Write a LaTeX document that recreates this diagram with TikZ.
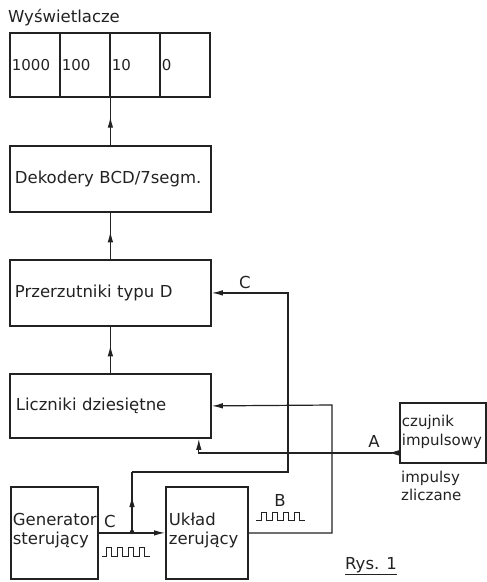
\documentclass[tikz,border=0pt]{standalone}
\usepackage{fontspec}
\setmainfont{DejaVu Sans}
\usetikzlibrary{arrows.meta,decorations.markings}
\definecolor{Ink}{HTML}{222222}
\tikzset{
  blok/.style={draw=Ink,line width=1.8pt,anchor=north west,align=left,inner xsep=5pt,inner ysep=0pt,text=Ink,font=\fontsize{16.5}{19}\selectfont},
  pole/.style={blok,inner xsep=2pt,text width=46pt,minimum height=64pt,font=\fontsize{15}{18}\selectfont},
  opis/.style={text=Ink,inner sep=0pt,font=\fontsize{16.5}{19}\selectfont},
  polacz/.style={draw=Ink,line width=1.2pt},
  grot/.style={-{Latex[length=11pt,width=5.5pt]}},
  srodek/.style={postaction={decorate},decoration={markings,mark=at position 0.6 with {\arrow{Latex[length=11pt,width=5.5pt]}}}},
  fala/.style={draw=Ink,line width=1pt}
}
\begin{document}
\begin{tikzpicture}[x=1pt,y=-1pt]
    \useasboundingbox (0,0) rectangle (487,582);
    \node[opis,anchor=base west] (wysw) at (8,22) {Wyświetlacze};
    \node[pole] (d1000) at (9,32) {1000};
    \node[pole] (d100) at (59,32) {100};
    \node[pole] (d10) at (109,32) {10};
    \node[pole] (d0) at (159,32) {0};
    \node[blok,text width=191pt,minimum height=66pt] (dek) at (9,145) {Dekodery BCD/7segm.};
    \node[blok,text width=191pt,minimum height=66pt] (prz) at (9,259) {Przerzutniki typu D};
    \node[blok,text width=189pt,inner xsep=6pt,minimum height=64pt] (licz) at (9,373) {Liczniki dziesiętne};
    \node[blok,text width=83pt,inner xsep=2pt,minimum height=92pt,text depth=28pt] (gen) at (10,486) {Generator\\sterujący};
    \node[blok,text width=76pt,inner xsep=3pt,minimum height=92pt,text depth=28pt] (uk) at (165,486) {Układ\\zerujący};
    \node[blok,text width=82pt,inner xsep=2pt,minimum height=60pt,text depth=24pt,font=\fontsize{15}{19}\selectfont] (czuj) at (399,402) {czujnik\\impulsowy};

    \draw[polacz,srodek] (dek.north) -- (dek.north |- d10.south);
    \draw[polacz,srodek] (prz.north) -- (dek.south);
    \draw[polacz,srodek] (licz.north) -- (prz.south);

    \coordinate (wezel) at (132,532);
    \coordinate (cL) at (132,472);
    \coordinate (cR) at (288,472);
    \coordinate (bR) at (332,405);
    \draw[polacz,grot] (gen.east) -- (uk.west);
    \fill[Ink] (wezel) circle (2.2pt);
    \draw[polacz,srodek] (wezel) -- (cL);
    \draw[polacz,grot] (cL) -- (cR) |- (prz.east);
    \draw[polacz,grot] (uk.east) -| (bR) -- (licz.east);
    \draw[polacz,{Latex[length=11pt,width=5.5pt,reversed]}-{Latex[length=11pt,width=5.5pt]}] ([yshift=-20pt]czuj.west) -| ([xshift=-13pt]licz.south east);

    \draw[fala] (102,556) -- ++(4,0) foreach \i in {1,...,4}{ -- ++(0,-9) -- ++(5,0) -- ++(0,9) -- ++(6,0)};
    \draw[fala] (256,520) -- ++(5,0) foreach \i in {1,...,4}{ -- ++(0,-8) -- ++(5,0) -- ++(0,8) -- ++(6,0)};

    \node[opis,anchor=south] (lC1) at (110,528) {C};
    \node[opis,anchor=south] (lC2) at (245,289) {C};
    \node[opis] (lB) at (280,500) {B};
    \node[opis] (lA) at (374,441) {A};
    \node[opis,anchor=north west,align=left,font=\fontsize{15}{18}\selectfont] (impz) at (401,471) {impulsy\\zliczane};
    \node[opis,anchor=base] (rys) at (371,569) {\underline{Rys. 1}};
  \end{tikzpicture}
\end{document}
